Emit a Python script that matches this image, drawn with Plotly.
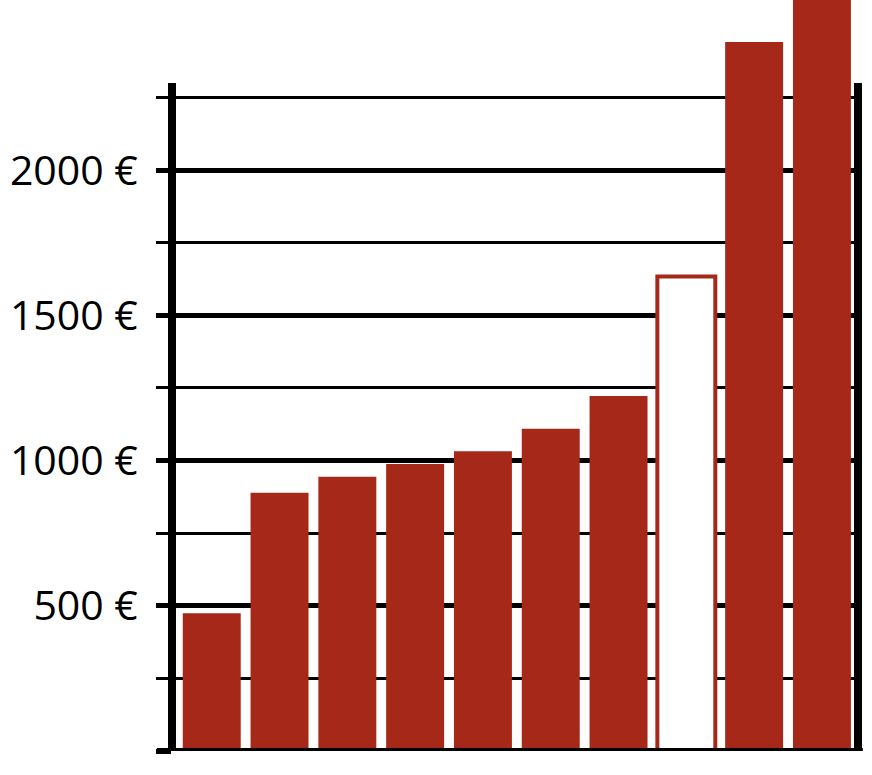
import plotly.graph_objects as go

# Data
categories = ["1", "2", "3", "4", "5", "6", "7", "8", "9", "10"]
values = [474, 889, 944, 988, 1032, 1110, 1222, 1634, 2441, 2700]
highlight = [False, False, False, False, False, False, False, True, False, False]
tick_values = [0, 500, 1000, 1500, 2000]
tick_labels = ["", "500 €", "1000 €", "1500 €", "2000 €"]
minor_values = [250, 750, 1250, 1750, 2250]
axis_top = 2300

RED = "rgb(166,40,25)"

fill_colors = ["white" if h else RED for h in highlight]
line_widths = [4 if h else 0 for h in highlight]

fig = go.Figure(
    go.Bar(
        x=categories,
        y=values,
        marker=dict(color=fill_colors, line=dict(color=RED, width=line_widths)),
        hoverinfo="skip",
    )
)

fig.update_layout(
    width=872,
    height=775,
    margin=dict(l=172, r=14, t=0, b=24),
    paper_bgcolor="white",
    plot_bgcolor="white",
    bargap=0.145,
    showlegend=False,
    font=dict(family="Open Sans", size=41, color="black"),
)

fig.update_xaxes(
    type="category",
    range=[-0.586, 9.532],
    showticklabels=False,
    ticks="",
    showgrid=False,
    showline=False,
    zeroline=False,
)

fig.update_yaxes(
    range=[0, 2586],
    tickmode="array",
    tickvals=tick_values,
    ticktext=tick_labels,
    ticks="outside",
    ticklen=15,
    tickwidth=4.5,
    tickcolor="black",
    showgrid=True,
    gridcolor="black",
    gridwidth=4.5,
    zeroline=False,
    showline=False,
    ticklabelstandoff=10,
    automargin=False,
    minor=dict(
        tickmode="array",
        tickvals=minor_values,
        ticks="outside",
        ticklen=15,
        tickwidth=2.5,
        tickcolor="black",
        showgrid=True,
        gridcolor="black",
        gridwidth=2.5,
    ),
)

# Axis frame lines (left, right, bottom) in axis coordinates
fig.add_shape(type="line", xref="x domain", yref="y", x0=0, x1=0, y0=-8, y1=axis_top,
              line=dict(color="black", width=8), layer="above")
fig.add_shape(type="line", xref="x domain", yref="y", x0=1, x1=1, y0=-8, y1=axis_top,
              line=dict(color="black", width=8), layer="above")
fig.add_shape(type="line", xref="x domain", yref="y", x0=-0.022, x1=1.007, y0=0, y1=0,
              line=dict(color="black", width=6), layer="above")

fig.write_html(
    "out.html",
    config={"displayModeBar": False},
    post_script="document.body.style.margin='0';",
)
